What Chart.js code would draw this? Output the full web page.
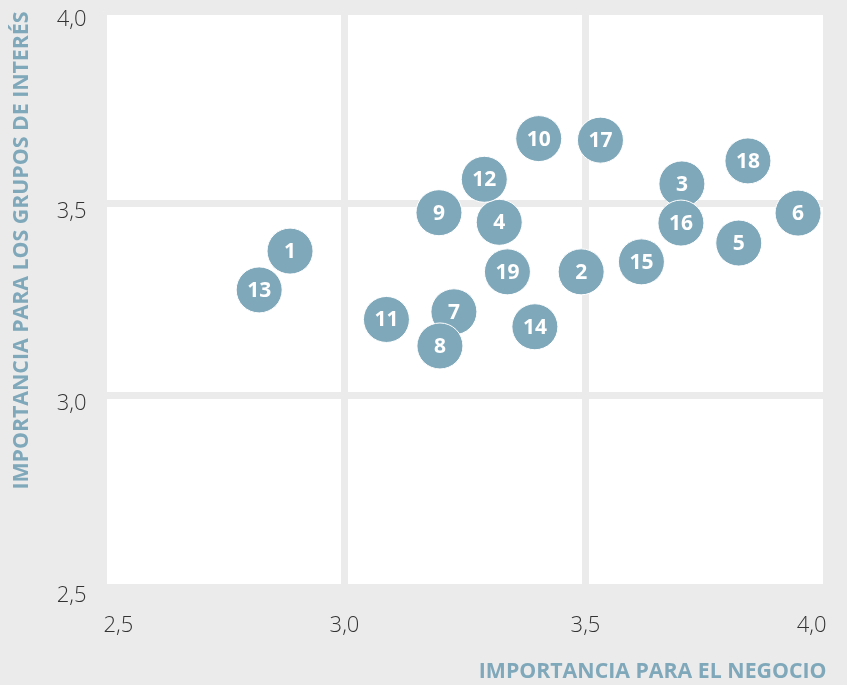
<!DOCTYPE html>
<html>
<head>
<meta charset="utf-8">
<script src="https://cdn.jsdelivr.net/npm/chart.js@4/dist/chart.umd.min.js"></script>
<style>
html,body{margin:0;padding:0;background:#ebebeb;}
#wrap{width:847px;height:685px;}
</style>
</head>
<body>
<div id="wrap"><canvas id="c" width="847" height="685"></canvas></div>
<script>
const labels = ['1','2','3','4','5','6','7','8','9','10','11','12','13','14','15','16','17','18','19'];
const negocio = [2.887,3.491,3.700,3.321,3.818,3.941,3.227,3.198,3.196,3.403,3.087,3.290,2.823,3.395,3.616,3.698,3.531,3.837,3.338];
const grupos  = [3.376,3.322,3.551,3.451,3.397,3.475,3.218,3.129,3.476,3.669,3.198,3.563,3.275,3.179,3.348,3.449,3.665,3.611,3.322];
const xTicks = [2.5,3.0,3.5,4.0];
const yTicks = [2.5,3.0,3.5,4.0];
const xTitle = 'IMPORTANCIA PARA EL NEGOCIO';
const yTitle = 'IMPORTANCIA PARA LOS GRUPOS DE INTERÉS';

const BG = '#ebebeb';
const BUBBLE = '#7fa8ba';
const fmt = v => v.toFixed(1).replace('.', ',');

const bgPlugin = {
  id: 'bg',
  beforeDraw(chart) {
    const {ctx, chartArea: a} = chart;
    ctx.save();
    ctx.fillStyle = BG;
    ctx.fillRect(0, 0, chart.width, chart.height);
    ctx.fillStyle = '#ffffff';
    ctx.fillRect(a.left, a.top, a.right - a.left, a.bottom - a.top);
    ctx.restore();
  }
};
const labelPlugin = {
  id: 'lbl',
  afterDatasetsDraw(chart) {
    const ctx = chart.ctx;
    const meta = chart.getDatasetMeta(0);
    ctx.save();
    ctx.fillStyle = '#ffffff';
    ctx.font = 'bold 21px "Open Sans"';
    ctx.textAlign = 'center';
    ctx.textBaseline = 'middle';
    meta.data.forEach((el, i) => {
      ctx.fillText(labels[i], el.x, el.y + 1);
    });
    ctx.restore();
  }
};
const noPad = s => { s.paddingTop = 0; s.paddingBottom = 0; s.paddingLeft = 0; s.paddingRight = 0; };

new Chart(document.getElementById('c'), {
  type: 'scatter',
  data: {
    datasets: [{
      data: negocio.map((x, i) => ({x: x, y: grupos[i]})),
      backgroundColor: BUBBLE,
      borderColor: '#ffffff',
      borderWidth: 1,
      pointRadius: 23,
      pointHoverRadius: 23,
      clip: false
    }]
  },
  options: {
    responsive: false,
    animation: false,
    events: [],
    layout: {autoPadding: false, padding: {top: 11.5, right: 20.5, left: 0, bottom: 0}},
    plugins: {legend: {display: false}, tooltip: {enabled: false}},
    scales: {
      x: {
        type: 'linear', min: 2.5, max: 4.0,
        afterBuildTicks: s => { s.ticks = xTicks.map(v => ({value: v})); },
        afterFit: s => { s.height = 97.5; noPad(s); },
        grid: {color: BG, lineWidth: 7, drawTicks: false},
        border: {display: false},
        ticks: {
          callback: v => fmt(v), align: 'inner', padding: 25,
          color: '#333333', font: {family: '"Open Sans"', size: 22, weight: '300'}
        },
        title: {
          display: true, text: xTitle, align: 'end', color: BUBBLE,
          font: {family: '"Open Sans"', size: 21.3, weight: 'bold'}, padding: {top: 3, bottom: 0}
        }
      },
      y: {
        type: 'linear', min: 2.5, max: 4.0,
        afterBuildTicks: s => { s.ticks = yTicks.map(v => ({value: v})); },
        afterFit: s => { s.width = 103.5; noPad(s); },
        grid: {color: BG, lineWidth: 7, drawTicks: false},
        border: {display: false},
        ticks: {
          callback: v => fmt(v), padding: 17, labelOffset: 8,
          color: '#333333', font: {family: '"Open Sans"', size: 22, weight: '300'}
        },
        title: {
          display: true, text: yTitle, align: 'end', color: BUBBLE,
          font: {family: '"Open Sans"', size: 21.3, weight: 'bold'}, padding: {top: 9, bottom: 0}
        }
      }
    }
  },
  plugins: [bgPlugin, labelPlugin]
});
</script>
</body>
</html>
